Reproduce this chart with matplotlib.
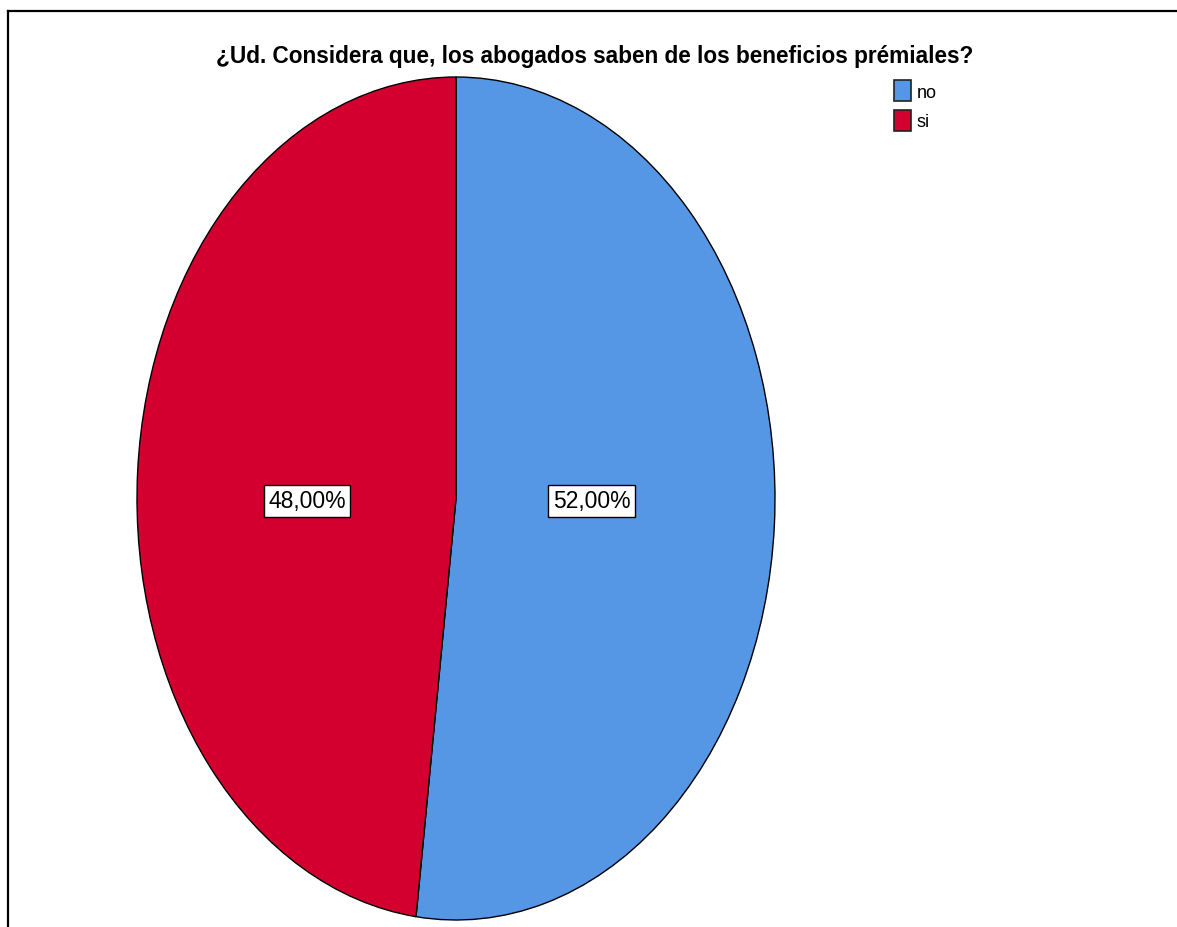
import matplotlib.pyplot as plt
from matplotlib.patches import Patch
from matplotlib.lines import Line2D

# --------------------------- data ---------------------------
categories = ["no", "si"]
percentages = [52.0, 48.0]
colors = ["#5596E5", "#D3002F"]
title = "¿Ud. Considera que, los abogados saben de los beneficios prémiales?"

narrow = ["Liberation Sans Narrow", "Liberation Sans", "DejaVu Sans"]

W, H = 1177, 928
fig = plt.figure(figsize=(W / 100, H / 100), dpi=100)

# ellipse bounding box in pixels (pie is stretched vertically)
left, right, top, bottom = 137, 775, 78, 921
ax = fig.add_axes([left / W, 1 - bottom / H, (right - left) / W, (bottom - top) / H])

wedges, _ = ax.pie(percentages, colors=colors, startangle=90, counterclock=False,
                   wedgeprops=dict(edgecolor="black", linewidth=1.0))
ax.set_aspect("auto")
ax.set_xlim(-1, 1)
ax.set_ylim(-1, 1)
ax.axis("off")

# percentage labels in white boxes
label_x = {"no": 0.426, "si": -0.467}
for cat, p in zip(categories, percentages):
    txt = f"{p:.2f}".replace(".", ",") + "%"
    ax.text(label_x[cat], -0.005, txt, ha="center", va="center", fontsize=16.5,
            family=narrow,
            bbox=dict(boxstyle="square,pad=0.2", facecolor="white",
                      edgecolor="black", linewidth=1.0))

fig.text(595 / W, 1 - 57 / H, title, ha="center", va="center", fontsize=16.3,
         fontweight="bold", family=narrow)

handles = [Patch(facecolor=c, edgecolor="#222222", linewidth=1.2) for c in colors]
fig.legend(handles, categories, loc="upper left", bbox_to_anchor=(894 / W, 1 - 81 / H),
           frameon=False, prop=dict(family=narrow, size=13),
           handlelength=0.95, handleheight=1.45, handletextpad=0.3,
           labelspacing=0.45, borderpad=0, borderaxespad=0)

# outer frame (only top and left visible in the crop)
fig.add_artist(Line2D([8 / W, 8 / W], [0, 1 - 12 / H], color="black", linewidth=1.6))
fig.add_artist(Line2D([8 / W, 1], [1 - 12 / H, 1 - 12 / H], color="black", linewidth=1.6))

fig.savefig("out.png", dpi=100)
